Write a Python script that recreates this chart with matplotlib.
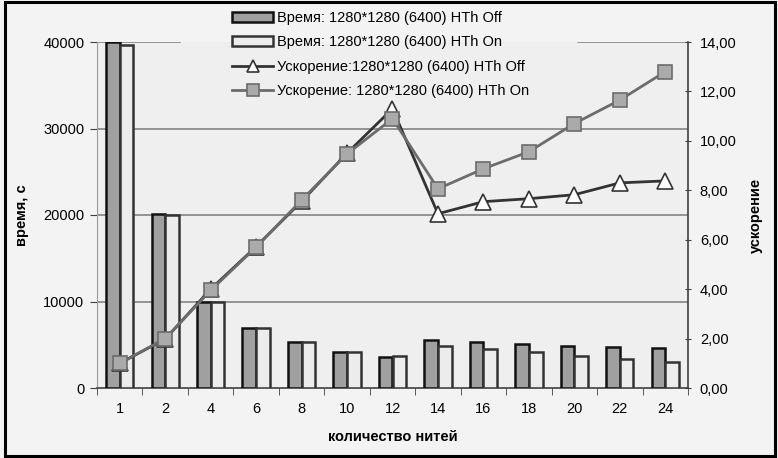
import matplotlib
matplotlib.use("Agg")
import matplotlib.pyplot as plt
from matplotlib.patches import Rectangle
from matplotlib.ticker import FuncFormatter
import numpy as np

plt.rcParams['font.family'] = ['Liberation Sans', 'DejaVu Sans']

threads = ['1', '2', '4', '6', '8', '10', '12', '14', '16', '18', '20', '22', '24']
time_off = [40000, 20100, 10000, 6900, 5300, 4150, 3550, 5500, 5300, 5100, 4850, 4700, 4600]
time_on = [39700, 19950, 10000, 6900, 5300, 4150, 3700, 4900, 4500, 4150, 3700, 3400, 3000]
speed_off = [1.0, 1.98, 4.0, 5.72, 7.55, 9.5, 11.3, 7.05, 7.54, 7.66, 7.82, 8.3, 8.38]
speed_on = [1.0, 2.0, 3.95, 5.7, 7.6, 9.47, 10.9, 8.06, 8.87, 9.56, 10.7, 11.65, 12.8]

labels = ['Время: 1280*1280 (6400) HTh Off',
          'Время: 1280*1280 (6400) HTh On',
          'Ускорение:1280*1280 (6400) HTh Off',
          'Ускорение: 1280*1280 (6400) HTh On']

BG = '#f3f3f3'
PLOT_BG = '#efefef'

fig = plt.figure(figsize=(7.78, 4.58), dpi=100)
fig.patch.set_facecolor(BG)
fig.patches.append(Rectangle((5/778, 2/458), 770/778, 454/458, transform=fig.transFigure,
                             facecolor='none', edgecolor='black', linewidth=2.2, zorder=0))

ax = fig.add_axes([97/778, 1 - 388/458, 591/778, 346/458])
ax.set_facecolor(PLOT_BG)
x = np.arange(len(threads))
w = 0.3
b1 = ax.bar(x - w/2, time_off, w, color='#a0a0a0', edgecolor='#111111', linewidth=1.8, label=labels[0], zorder=3)
b2 = ax.bar(x + w/2, time_on, w, color='#ececec', edgecolor='#333333', linewidth=1.8, label=labels[1], zorder=3)
ax.set_xlim(-0.5, len(threads) - 0.5)
ax.set_ylim(0, 40000)
ax.set_yticks([0, 10000, 20000, 30000, 40000])
ax.set_yticklabels(['0', '10000', '20000', '30000', '40000'])
ax.set_xticks(x)
ax.set_xticklabels(threads)
ax.set_xticks(np.arange(len(threads) + 1) - 0.5, minor=True)
ax.tick_params(axis='x', which='major', length=0, pad=10, labelsize=10.5)
ax.tick_params(axis='x', which='minor', length=5, direction='out', color='#404040')
ax.tick_params(axis='y', length=5, direction='out', color='#404040', labelsize=10.5, pad=4)
for yv in [10000, 20000, 30000]:
    ax.axhline(yv, color='#7a7a7a', linewidth=1.1, zorder=1)
# top gridline is partly hidden behind the legend box
ax.axhline(40000, xmin=0, xmax=0.14, color='#7a7a7a', linewidth=1.1, zorder=1)
ax.axhline(40000, xmin=0.814, xmax=1, color='#7a7a7a', linewidth=1.1, zorder=1)
for s in ['top', 'right']:
    ax.spines[s].set_visible(False)
ax.spines['left'].set_color('#9a9a9a')
ax.spines['bottom'].set_color('#404040')
ax.spines['bottom'].set_linewidth(1.2)
ax.set_ylabel('время, с', fontweight='bold', fontsize=10.5, labelpad=10)
ax.set_xlabel('количество нитей', fontweight='bold', fontsize=10.5, labelpad=10)

ax2 = ax.twinx()
ax2.set_ylim(0, 14)
ax2.set_yticks([0, 2, 4, 6, 8, 10, 12, 14])
ax2.yaxis.set_major_formatter(FuncFormatter(lambda v, p: f'{v:.2f}'.replace('.', ',')))
ax2.tick_params(axis='y', length=5, direction='inout', color='#404040', labelsize=10.5, pad=6)
for s in ['top', 'left', 'bottom']:
    ax2.spines[s].set_visible(False)
ax2.spines['right'].set_color('#404040')
ax2.spines['right'].set_linewidth(1.2)
l1, = ax2.plot(x, speed_off, color='#333333', linewidth=2, marker='^', markersize=11,
               markerfacecolor='white', markeredgecolor='#333333', markeredgewidth=1.2,
               label=labels[2], zorder=3)
l2, = ax2.plot(x, speed_on, color='#6c6c6c', linewidth=2, marker='s', markersize=9.5,
               markerfacecolor='#aaaaaa', markeredgecolor='#6c6c6c', markeredgewidth=1.2,
               label=labels[3], zorder=4)
ax2.set_ylabel('ускорение', fontweight='bold', fontsize=10.5, rotation=90, labelpad=9)

leg = fig.legend(handles=[b1, b2, l1, l2], labels=labels, loc='upper left',
                 bbox_to_anchor=(222/778, 1 - 1/458), frameon=False, fontsize=10.5,
                 handlelength=2.8, handletextpad=0.3, labelspacing=0.7, borderpad=0.2)
for h in leg.legend_handles[2:]:
    h.set_markersize(8)

fig.savefig('out.png', dpi=100, facecolor=BG)
